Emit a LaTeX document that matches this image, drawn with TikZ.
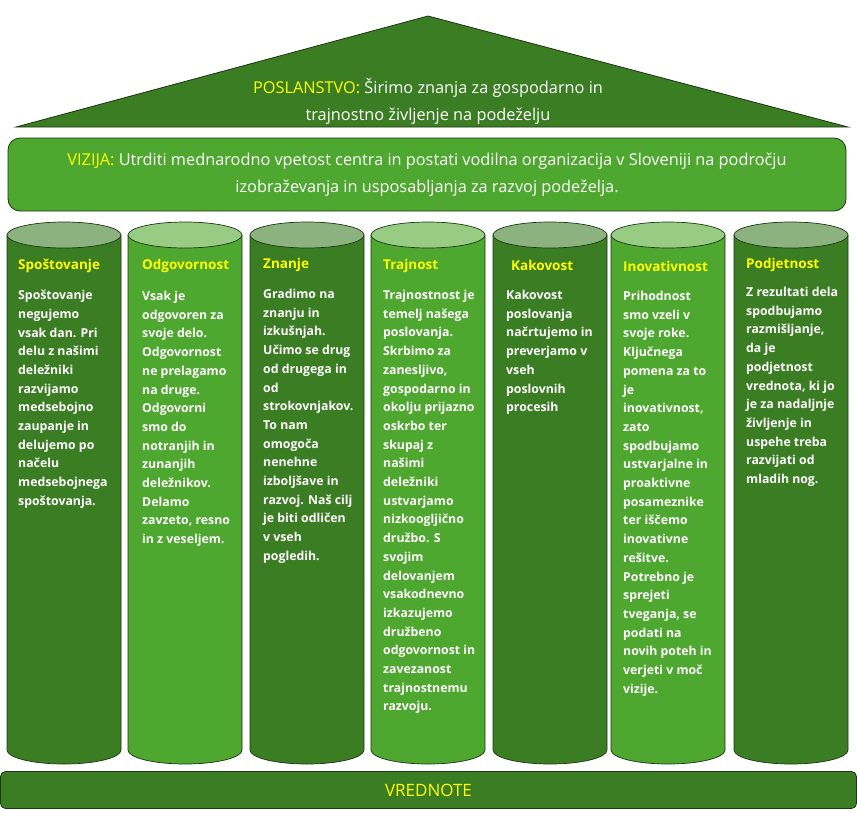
\documentclass[tikz,border=0pt]{standalone}
\usepackage{fontspec}
\setmainfont{Open Sans}
\definecolor{darkleaf}{HTML}{3B7D23}
\definecolor{lightleaf}{HTML}{4EA72E}
\definecolor{darktop}{HTML}{8CB27F}
\definecolor{lighttop}{HTML}{98CB84}
\definecolor{edge}{HTML}{1C3812}
\definecolor{sun}{HTML}{FFFF00}

\begin{document}
\begin{tikzpicture}[x=1pt,y=-1pt,
    lead/.style={align=center,text=white,inner sep=0pt,font=\fontsize{16.3}{26.5}\selectfont},
    bar/.style={rounded corners=12pt,draw=edge,line width=0.8pt},
    head/.style={anchor=west,inner sep=0pt,text=sun,font=\fontsize{13.5}{16}\selectfont\bfseries},
    txt/.style={anchor=north west,align=left,inner sep=0pt,text=white,font=\fontsize{12.3}{18.7}\selectfont\bfseries}]
    \useasboundingbox (0,0) rectangle (857,812);

    % roof
    \draw[fill=darkleaf,draw=edge,line width=0.8pt] (16,127) -- (428,16) -- (848,127) -- cycle;
    \node[lead] (mission) at (428,101.5) {\textcolor{sun}{POSLANSTVO:} Širimo znanja za gospodarno in\\trajnostno življenje na podeželju};

    % vision
    \node[bar,fill=lightleaf,minimum width=838pt,minimum height=73pt,lead] (vision) at (427,174.5)
        {\textcolor{sun}{VIZIJA:} Utrditi mednarodno vpetost centra in postati vodilna organizacija v Sloveniji na področju\\izobraževanja in usposabljanja za razvoj podeželja.};

    % pillars
    \foreach \x/\body/\top in {7/darkleaf/darktop,128/lightleaf/lighttop,250/darkleaf/darktop,371/lightleaf/lighttop,493/darkleaf/darktop,611/lightleaf/lighttop,734/darkleaf/darktop}{
        \draw[fill=\body,draw=edge,line width=0.7pt] (\x,235) -- (\x,750) arc (180:0:57 and 14) -- (\x+114,235);
        \draw[fill=\top,draw=edge,line width=0.7pt] (\x+57,235) ellipse (57 and 13);
    }

    \node[head] (h1) at (18,266) {Spoštovanje};
    \node[head] (h2) at (142,266) {Odgovornost};
    \node[head] (h3) at (263,265) {Znanje};
    \node[head] (h4) at (383,266) {Trajnost};
    \node[head] (h5) at (511,265) {Kakovost};
    \node[head] (h6) at (623,266) {Inovativnost};
    \node[head] (h7) at (746,265) {Podjetnost};

    \node[txt] (t1) at (18,290) {Spoštovanje\\negujemo\\vsak dan. Pri\\delu z našimi\\deležniki\\razvijamo\\medsebojno\\zaupanje in\\delujemo po\\načelu\\medsebojnega\\spoštovanja.};
    \node[txt] (t2) at (142,291) {Vsak je\\odgovoren za\\svoje delo.\\Odgovornost\\ne prelagamo\\na druge.\\Odgovorni\\smo do\\notranjih in\\zunanjih\\deležnikov.\\Delamo\\zavzeto, resno\\in z veseljem.};
    \node[txt] (t3) at (263,289) {Gradimo na\\znanju in\\izkušnjah.\\Učimo se drug\\od drugega in\\od\\strokovnjakov.\\To nam\\omogoča\\nenehne\\izboljšave in\\razvoj. Naš cilj\\je biti odličen\\v vseh\\pogledih.};
    \node[txt] (t4) at (383,290) {Trajnostnost je\\temelj našega\\poslovanja.\\Skrbimo za\\zanesljivo,\\gospodarno in\\okolju prijazno\\oskrbo ter\\skupaj z\\našimi\\deležniki\\ustvarjamo\\nizkoogljično\\družbo. S\\svojim\\delovanjem\\vsakodnevno\\izkazujemo\\družbeno\\odgovornost in\\zavezanost\\trajnostnemu\\razvoju.};
    \node[txt] (t5) at (506,290) {Kakovost\\poslovanja\\načrtujemo in\\preverjamo v\\vseh\\poslovnih\\procesih};
    \node[txt] (t6) at (623,291) {Prihodnost\\smo vzeli v\\svoje roke.\\Ključnega\\pomena za to\\je\\inovativnost,\\zato\\spodbujamo\\ustvarjalne in\\proaktivne\\posameznike\\ter iščemo\\inovativne\\rešitve.\\Potrebno je\\sprejeti\\tveganja, se\\podati na\\novih poteh in\\verjeti v moč\\vizije.};
    \node[txt] (t7) at (746,287) {Z rezultati dela\\spodbujamo\\razmišljanje,\\da je\\podjetnost\\vrednota, ki jo\\je za nadaljnje\\življenje in\\uspehe treba\\razvijati od\\mladih nog.};

    % base
    \node[bar,rounded corners=5pt,fill=darkleaf,minimum width=856pt,minimum height=37pt,lead,font=\fontsize{17}{20}\selectfont,text=sun] (values) at (428.5,790) {VREDNOTE};
\end{tikzpicture}
\end{document}
